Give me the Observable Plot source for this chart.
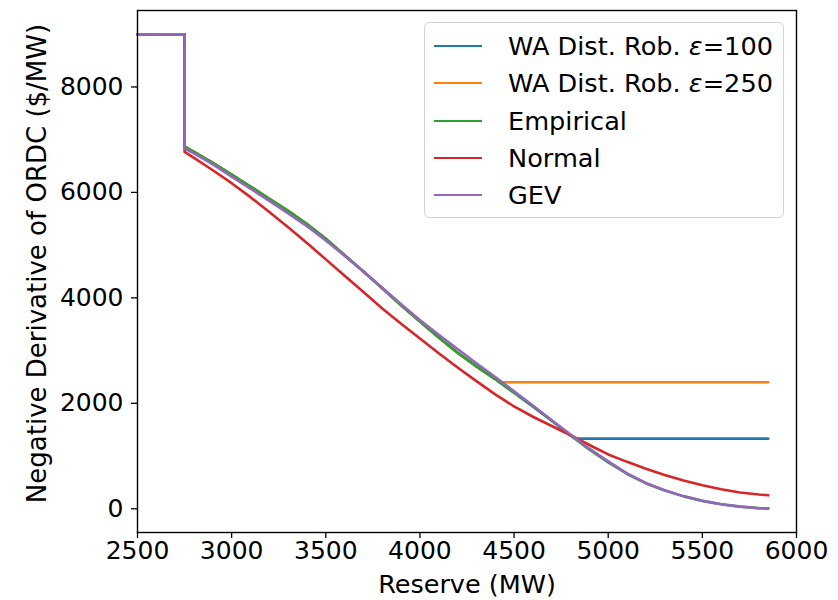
<!DOCTYPE html>
<html>
<head>
<meta charset="utf-8">
<script src="https://cdn.jsdelivr.net/npm/d3@7"></script>
<script src="https://cdn.jsdelivr.net/npm/@observablehq/plot@0.6"></script>
<style>
  body { margin: 0; background: #fff; }
  #wrap { position: relative; width: 838px; height: 600px; font-family: "DejaVu Sans", sans-serif; }
  .legend { position: absolute; left: 424px; top: 22px; width: 360px; height: 196px; box-sizing: border-box;
            border: 1.3px solid #d4d4d4; border-radius: 5px; background: rgba(255,255,255,0.85); }
  .row { position: absolute; left: 0; height: 30px; }
  .sw { position: absolute; left: 9px; width: 48px; height: 0; border-top: 2.6px solid; }
  .lab { position: absolute; left: 83px; white-space: nowrap; font-size: 25.6px; color: #000; line-height: 30px; }
</style>
</head>
<body>
<div id="wrap"></div>
<script>
// ---- data ----
const reserve = [2500,2750,2750,2800,2900,3000,3100,3200,3300,3400,3500,3600,3700,3800,3900,4000,4100,4200,4300,4400,4500,4600,4700,4800,4900,5000,5100,5200,5300,5400,5500,5600,5700,5800,5850];
const empirical = [9000,9000,6870,6770,6560,6340,6110,5880,5650,5400,5120,4810,4500,4180,3860,3550,3250,2960,2700,2460,2200,1940,1670,1390,1120,880,660,480,345,235,150,85,40,12,8];
const gev = [9000,9000,6830,6740,6530,6300,6070,5840,5600,5360,5090,4800,4500,4190,3880,3580,3300,3030,2760,2500,2230,1960,1680,1410,1140,900,670,490,350,240,150,85,40,10,3];
const normal = [9000,9000,6770,6655,6420,6175,5910,5630,5340,5040,4730,4420,4110,3800,3510,3230,2950,2680,2420,2170,1940,1745,1570,1395,1210,1030,890,760,640,535,445,370,310,270,255];
const wa100X = [2500,2750,2750,2800,2900,3000,3100,3200,3300,3400,3500,3600,3700,3800,3900,4000,4100,4200,4300,4400,4500,4600,4700,4800,4830,5850];
const wa100Y = [9000,9000,6870,6770,6560,6340,6110,5880,5650,5400,5120,4810,4500,4180,3860,3550,3250,2960,2700,2460,2200,1940,1670,1390,1330,1330];
const wa250X = [2500,2750,2750,2800,2900,3000,3100,3200,3300,3400,3500,3600,3700,3800,3900,4000,4100,4200,4300,4400,4420,5850];
const wa250Y = [9000,9000,6870,6770,6560,6340,6110,5880,5650,5400,5120,4810,4500,4180,3860,3550,3250,2960,2700,2460,2400,2400];
const seriesNames = ["WA Dist. Rob. ε=100", "WA Dist. Rob. ε=250", "Empirical", "Normal", "GEV"];
const seriesColors = ["#1f77b4", "#ff7f0e", "#2ca02c", "#d62728", "#9467bd"];
const xTicks = [2500,3000,3500,4000,4500,5000,5500,6000];
const yTicks = [0,2000,4000,6000,8000];

const seriesData = [
  [wa100X, wa100Y], [wa250X, wa250Y], [reserve, empirical], [reserve, normal], [reserve, gev]
].map(([xs, ys]) => xs.map((x, i) => ({x, y: ys[i]})));

const lineMarks = seriesData.map((d, i) =>
  Plot.line(d, {x: "x", y: "y", stroke: seriesColors[i], strokeWidth: 2.6}));

const chart = Plot.plot({
  width: 838, height: 600,
  marginLeft: 137, marginRight: 42, marginTop: 10, marginBottom: 68,
  style: {fontFamily: "DejaVu Sans, sans-serif", background: "#fff", color: "#000"},
  x: {domain: [2500, 6000]},
  y: {domain: [-450, 9450]},
  marks: [
    ...lineMarks,
    Plot.frame({stroke: "#000", strokeWidth: 1.4}),
    Plot.axisX({ticks: xTicks, tickFormat: d => String(d), tickSize: 6, tickPadding: 3, fontSize: 25, label: null, strokeWidth: 1.3}),
    Plot.axisY({ticks: yTicks, tickFormat: d => String(d), tickSize: 6, tickPadding: 8, fontSize: 25, label: null, strokeWidth: 1.3}),
    Plot.text(["Reserve (MW)"], {frameAnchor: "bottom", textAnchor: "middle", lineAnchor: "middle", dy: 52, fontSize: 25.5, fill: "#000"}),
    Plot.text(["Negative Derivative of ORDC ($/MW)"], {frameAnchor: "left", textAnchor: "middle", lineAnchor: "middle", dx: -100, dy: -8, rotate: -90, fontSize: 26, fill: "#000"})
  ]
});

const wrap = document.getElementById("wrap");
wrap.appendChild(chart);

// legend
const leg = document.createElement("div");
leg.className = "legend";
seriesNames.forEach((name, i) => {
  const row = document.createElement("div");
  row.className = "row";
  row.style.top = (8 + i * 37.3) + "px";
  const sw = document.createElement("div");
  sw.className = "sw";
  sw.style.borderTopColor = seriesColors[i];
  sw.style.top = "14px";
  const lab = document.createElement("div");
  lab.className = "lab";
  lab.style.top = "0px";
  if (name.includes("ε")) {
    const parts = name.split("ε");
    lab.append(parts[0]);
    const e = document.createElement("i");
    e.textContent = "ε";
    lab.append(e);
    lab.append(parts[1]);
  } else {
    lab.textContent = name;
  }
  row.appendChild(sw);
  row.appendChild(lab);
  leg.appendChild(row);
});
wrap.appendChild(leg);
</script>
</body>
</html>
